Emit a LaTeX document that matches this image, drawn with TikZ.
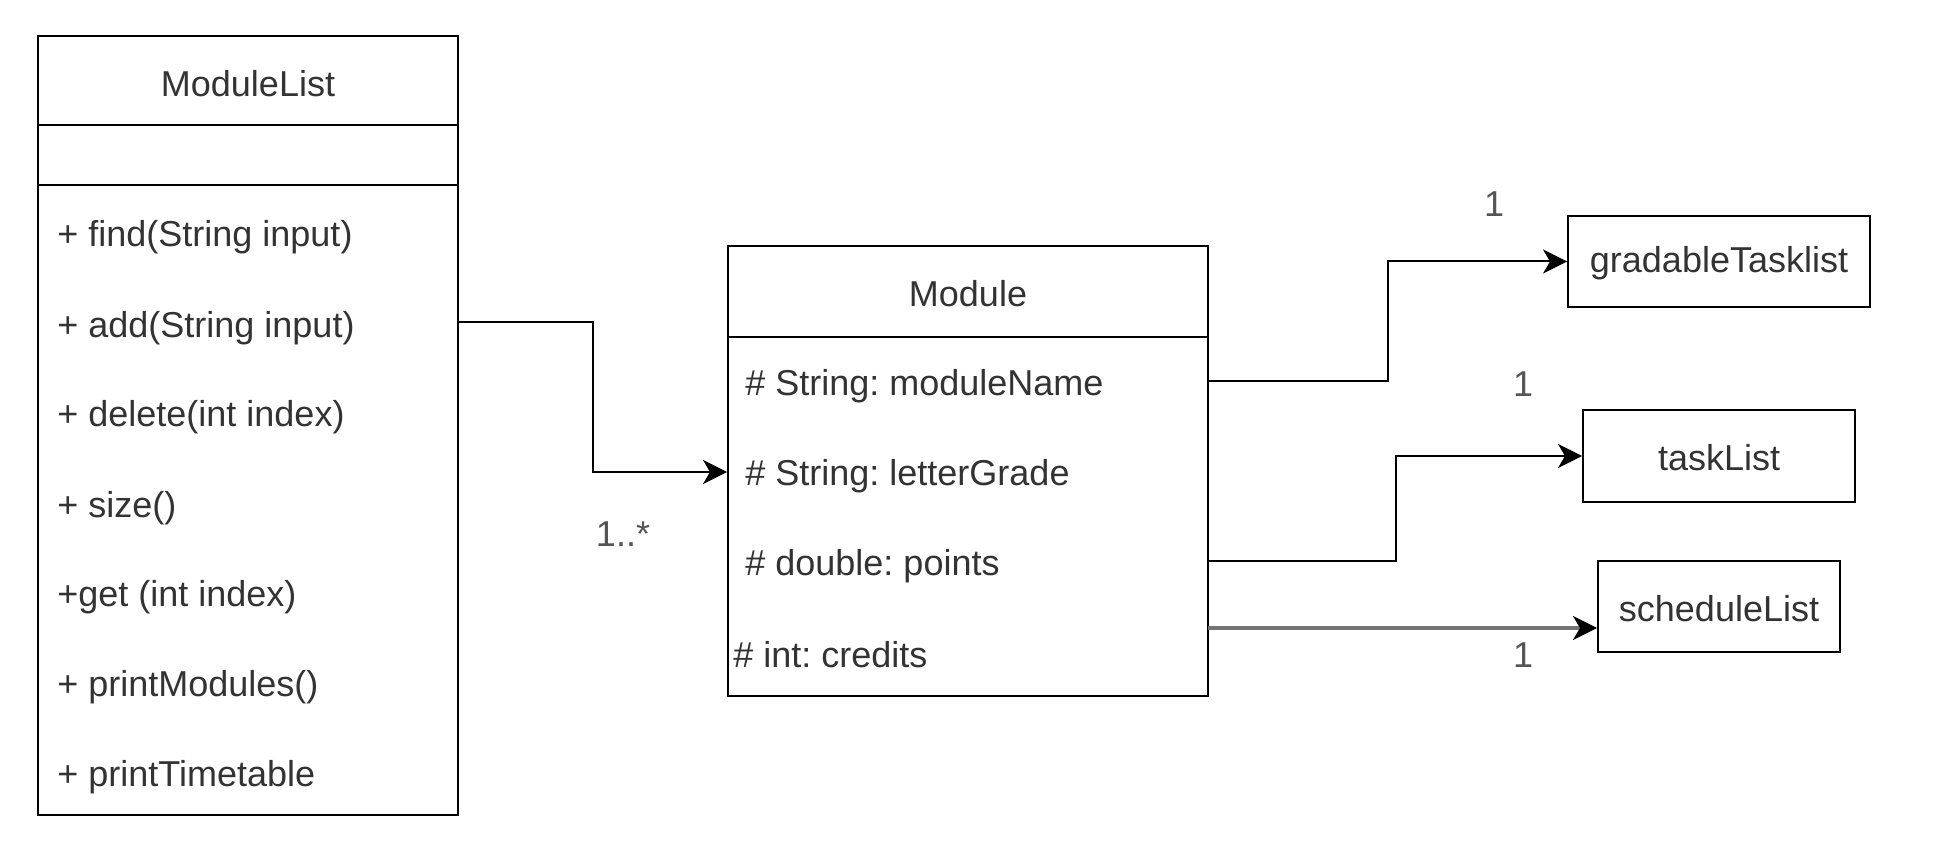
\documentclass[tikz,border=0pt]{standalone}
\usepackage{fontspec}
\setmainfont{Liberation Sans}
\usetikzlibrary{fit,arrows.meta}
\definecolor{txt}{HTML}{333333}
\definecolor{lbl}{HTML}{555555}
\frenchspacing
\begin{document}
\begin{tikzpicture}[x=0.5pt,y=-0.5pt,
  font=\fontsize{18}{21}\selectfont\frenchspacing,
  box/.style={draw=black,line width=1pt,inner sep=0pt,fill=white},
  txtnode/.style={text=txt,inner sep=0pt,anchor=west},
  ttl/.style={text=txt,inner sep=0pt},
  lab/.style={text=lbl,inner sep=0pt},
  conn/.style={draw=black,line width=1pt,-{Stealth[length=12pt,width=12pt,inset=3.5pt]}},
  conng/.style={draw=black!55,line width=1.6pt,-{Stealth[length=12pt,width=12pt,inset=3.5pt,color=black]}}]
\useasboundingbox (0,0) rectangle (1937,850);
% ModuleList
\node[box,fit={(38,36) (458,815)}] (ml) {};
\draw[line width=1pt] (38,125) -- (458,125);
\draw[line width=1pt] (38,185) -- (458,185);
\node[ttl] (mlt) at (248,84) {ModuleList};
\node[txtnode] (m1) at (57,237) {+ find(String input)};
\node[txtnode] (m2) at (57,328) {+ add(String input)};
\node[txtnode] (m3) at (57,417) {+ delete(int index)};
\node[txtnode] (m4) at (57,508) {+ size()};
\node[txtnode] (m5) at (57,597) {+get (int index)};
\node[txtnode] (m6) at (57,687) {+ printModules()};
\node[txtnode] (m7) at (57,777) {+ printTimetable};
% Module
\node[box,fit={(728,246) (1208,696)}] (mod) {};
\draw[line width=1pt] (728,337) -- (1208,337);
\node[ttl] (modt) at (968,294) {Module};
\node[txtnode] (a1) at (745,386) {\# String: moduleName};
\node[txtnode] (a2) at (745,476) {\# String: letterGrade};
\node[txtnode] (a3) at (745,566) {\# double: points};
\node[txtnode] (a4) at (733,655) {\# int: credits};
% right boxes
\node[box,fit={(1568,216) (1870,307)}] (gt) {};
\node[ttl] at ([yshift=-1pt]gt.center) {gradableTasklist};
\node[box,fit={(1583,410) (1855,502)}] (tl) {};
\node[ttl] at ([yshift=-1pt]tl.center) {taskList};
\node[box,fit={(1598,561) (1840,652)}] (sl) {};
\node[ttl] at ([yshift=-1pt]sl.center) {scheduleList};
% connectors
\coordinate (c0) at (593,322);
\draw[conn] (ml.east |- c0) -- (c0) |- (mod.west |- 0,472);
\coordinate (c1) at (1388,381);
\draw[conn] (mod.east |- c1) -- (c1) |- (gt.west);
\coordinate (c2) at (1396,561);
\draw[conn] (mod.east |- c2) -- (c2) |- (tl.west);
\coordinate (c3) at (1208,628);
\draw[conng] (c3) -- (sl.west |- c3);
% labels
\node[lab] (l0) at (623,534) {1..*};
\node[lab] (l1) at (1494,204) {1};
\node[lab] (l2) at (1523,384) {1};
\node[lab] (l3) at (1523,655) {1};
\end{tikzpicture}
\end{document}
